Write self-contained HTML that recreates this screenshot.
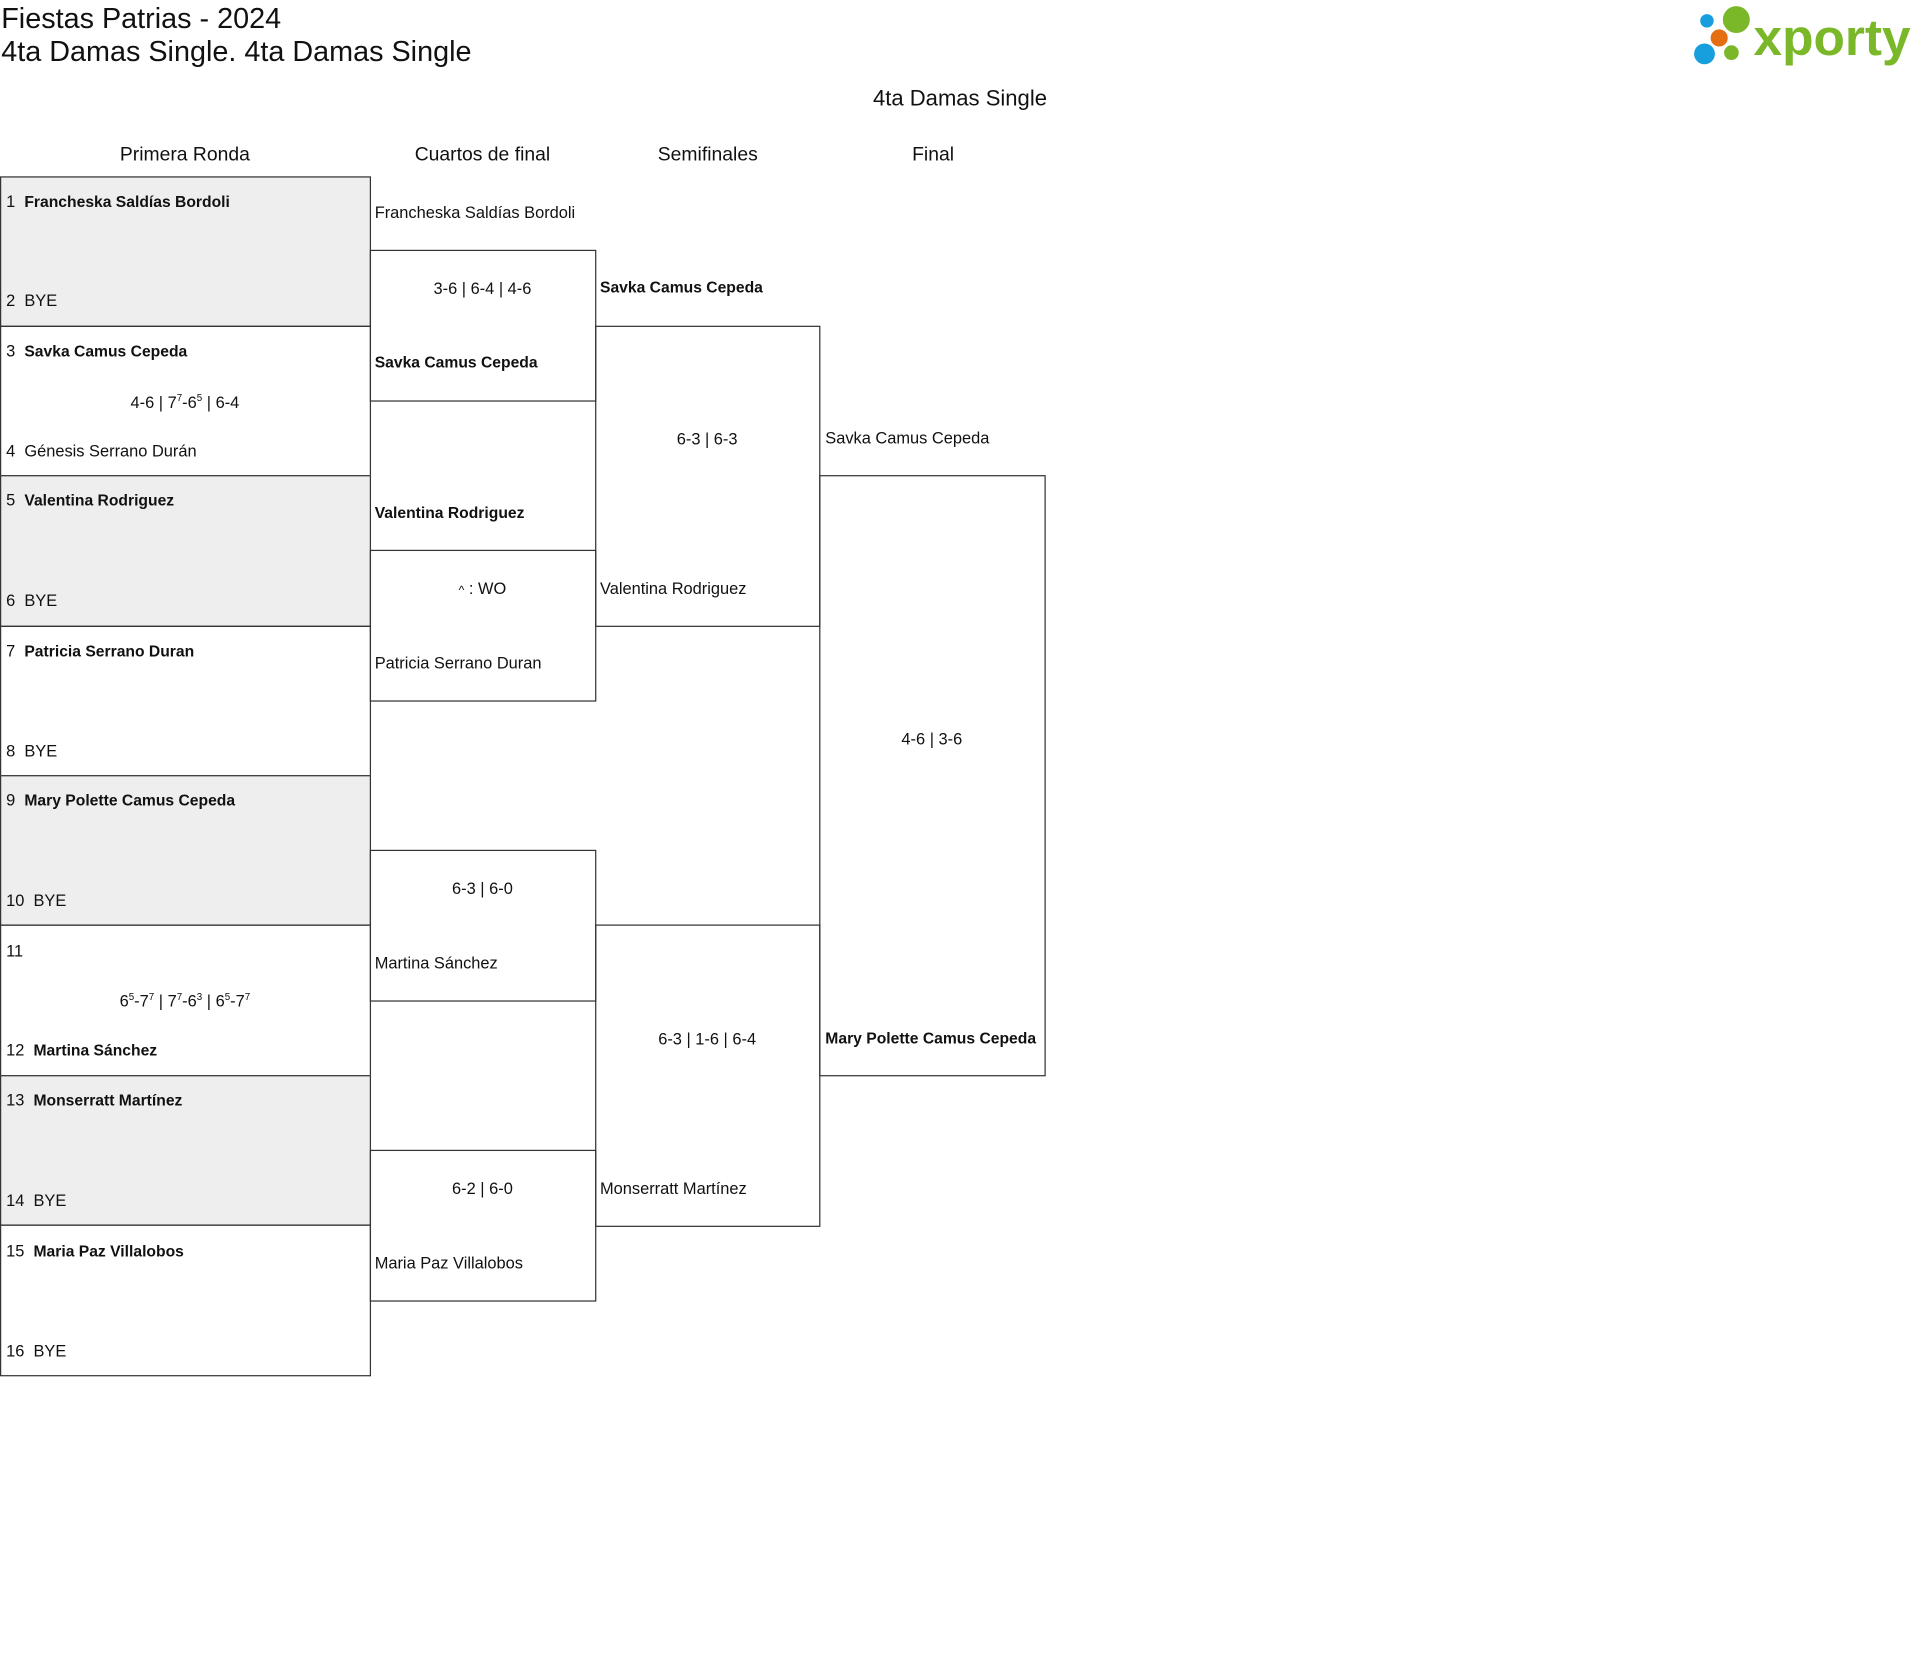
<!DOCTYPE html>
<html><head><meta charset="utf-8"><style>
html,body{margin:0;padding:0;background:#fff;width:1920px;height:1658px;overflow:hidden}
#w{position:absolute;left:0;top:0;width:1568px;height:1354px;transform:scale(1.22449);transform-origin:0 0;font-family:"Liberation Sans",sans-serif;color:#111}
.b{position:absolute;border:1px solid #333;box-sizing:border-box}
.g{background:#eeeeee}
.t{position:absolute;white-space:nowrap;font-size:13.4px;line-height:16px;margin-top:1px}
.c{text-align:center}
.bo{font-weight:bold;font-size:12.8px}
.h{position:absolute;font-size:15.8px;line-height:18px;text-align:center;white-space:nowrap;margin-top:1px}
sup{font-size:8px;line-height:0}
</style></head><body><div id="w">
<div class="t" style="left:1px;top:1px;font-size:23.5px;line-height:26px">Fiestas Patrias - 2024</div>
<div class="t" style="left:1px;top:28px;font-size:23.5px;line-height:26px">4ta Damas Single. 4ta Damas Single</div>
<div class="h" style="left:684px;width:200px;top:70px;font-size:18px">4ta Damas Single</div>
<div class="h" style="left:51px;width:200px;top:117px">Primera Ronda</div>
<div class="h" style="left:294px;width:200px;top:117px">Cuartos de final</div>
<div class="h" style="left:478px;width:200px;top:117px">Semifinales</div>
<div class="h" style="left:662px;width:200px;top:117px">Final</div>

<svg style="position:absolute;left:1380px;top:3px" width="60" height="52">
<circle cx="38" cy="13" r="11" fill="#7ab829"/><circle cx="14" cy="14" r="5.5" fill="#179fdd"/>
<circle cx="24" cy="28" r="7" fill="#e36f12"/><circle cx="12" cy="41" r="8.5" fill="#179fdd"/>
<circle cx="34" cy="40" r="6" fill="#7ab829"/></svg>
<div class="t" style="left:1432px;top:6px;font-size:42px;line-height:48px;font-weight:bold;color:#7ab829;letter-spacing:0px">xporty</div>

<!-- round 1 -->
<div class="b g" style="left:0;top:144px;width:303px;height:123px"></div>
<div class="b" style="left:0;top:266px;width:303px;height:123px"></div>
<div class="b g" style="left:0;top:388px;width:303px;height:124px"></div>
<div class="b" style="left:0;top:511px;width:303px;height:123px"></div>
<div class="b g" style="left:0;top:633px;width:303px;height:123px"></div>
<div class="b" style="left:0;top:755px;width:303px;height:124px"></div>
<div class="b g" style="left:0;top:878px;width:303px;height:123px"></div>
<div class="b" style="left:0;top:1000px;width:303px;height:124px"></div>

<div class="t" style="left:5px;top:156px">1&nbsp; <span class="bo">Francheska Saldías Bordoli</span></div>
<div class="t" style="left:5px;top:237px">2&nbsp; BYE</div>
<div class="t" style="left:5px;top:278px">3&nbsp; <span class="bo">Savka Camus Cepeda</span></div>
<div class="t c" style="left:0;width:302px;top:320px">4-6 | 7<sup>7</sup>-6<sup>5</sup> | 6-4</div>
<div class="t" style="left:5px;top:360px">4&nbsp; Génesis Serrano Durán</div>
<div class="t" style="left:5px;top:400px">5&nbsp; <span class="bo">Valentina Rodriguez</span></div>
<div class="t" style="left:5px;top:482px">6&nbsp; BYE</div>
<div class="t" style="left:5px;top:523px">7&nbsp; <span class="bo">Patricia Serrano Duran</span></div>
<div class="t" style="left:5px;top:605px">8&nbsp; BYE</div>
<div class="t" style="left:5px;top:645px">9&nbsp; <span class="bo">Mary Polette Camus Cepeda</span></div>
<div class="t" style="left:5px;top:727px">10&nbsp; BYE</div>
<div class="t" style="left:5px;top:768px">11</div>
<div class="t c" style="left:0;width:302px;top:809px">6<sup>5</sup>-7<sup>7</sup> | 7<sup>7</sup>-6<sup>3</sup> | 6<sup>5</sup>-7<sup>7</sup></div>
<div class="t" style="left:5px;top:849px">12&nbsp; <span class="bo">Martina Sánchez</span></div>
<div class="t" style="left:5px;top:890px">13&nbsp; <span class="bo">Monserratt Martínez</span></div>
<div class="t" style="left:5px;top:972px">14&nbsp; BYE</div>
<div class="t" style="left:5px;top:1013px">15&nbsp; <span class="bo">Maria Paz Villalobos</span></div>
<div class="t" style="left:5px;top:1095px">16&nbsp; BYE</div>

<!-- QF -->
<div class="b" style="left:302px;top:204px;width:185px;height:124px"></div>
<div class="b" style="left:302px;top:449px;width:185px;height:124px"></div>
<div class="b" style="left:302px;top:694px;width:185px;height:124px"></div>
<div class="b" style="left:302px;top:939px;width:185px;height:124px"></div>
<div class="t" style="left:306px;top:165px">Francheska Saldías Bordoli</div>
<div class="t c" style="left:302px;width:184px;top:227px">3-6 | 6-4 | 4-6</div>
<div class="t bo" style="left:306px;top:287px">Savka Camus Cepeda</div>
<div class="t bo" style="left:306px;top:410px">Valentina Rodriguez</div>
<div class="t c" style="left:302px;width:184px;top:472px"><span style="font-size:10px">^</span> : WO</div>
<div class="t" style="left:306px;top:533px">Patricia Serrano Duran</div>
<div class="t c" style="left:302px;width:184px;top:717px">6-3 | 6-0</div>
<div class="t" style="left:306px;top:778px">Martina Sánchez</div>
<div class="t c" style="left:302px;width:184px;top:962px">6-2 | 6-0</div>
<div class="t" style="left:306px;top:1023px">Maria Paz Villalobos</div>

<!-- SF -->
<div class="b" style="left:486px;top:266px;width:184px;height:246px"></div>
<div class="b" style="left:486px;top:755px;width:184px;height:247px"></div>
<div class="t bo" style="left:490px;top:226px">Savka Camus Cepeda</div>
<div class="t c" style="left:486px;width:183px;top:350px">6-3 | 6-3</div>
<div class="t" style="left:490px;top:472px">Valentina Rodriguez</div>
<div class="t c" style="left:486px;width:183px;top:840px">6-3 | 1-6 | 6-4</div>
<div class="t" style="left:490px;top:962px">Monserratt Martínez</div>

<!-- Final -->
<div class="b" style="left:669px;top:388px;width:185px;height:491px"></div>
<div class="t" style="left:674px;top:349px">Savka Camus Cepeda</div>
<div class="t c" style="left:669px;width:184px;top:595px">4-6 | 3-6</div>
<div class="t bo" style="left:674px;top:839px">Mary Polette Camus Cepeda</div>
</div></body></html>
